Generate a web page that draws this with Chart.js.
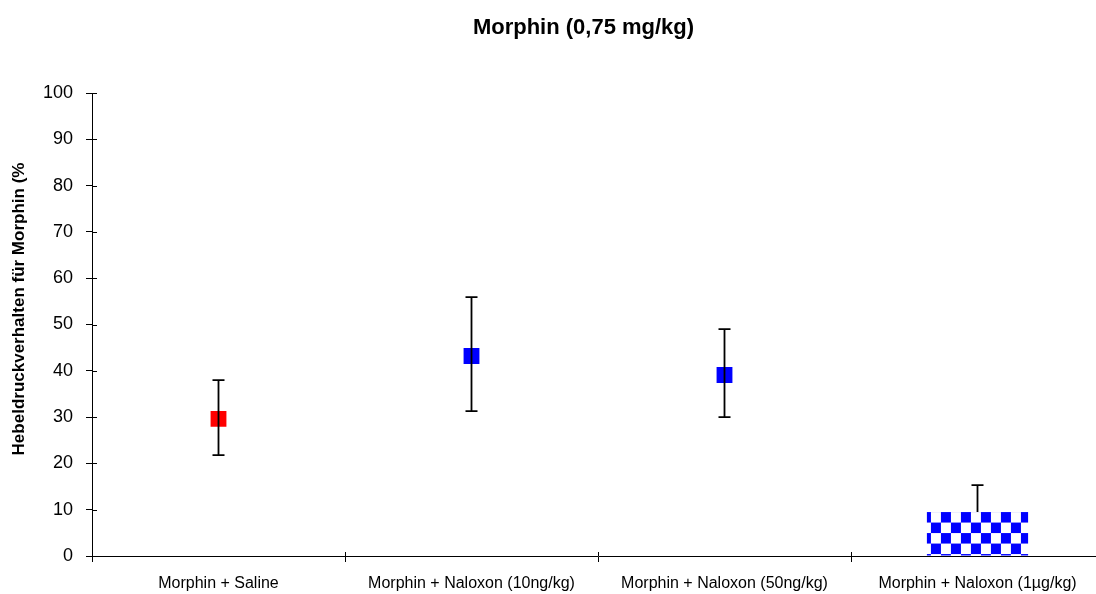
<!DOCTYPE html>
<html>
<head>
<meta charset="utf-8">
<script src="https://cdn.jsdelivr.net/npm/chart.js@4.4.1/dist/chart.umd.min.js"></script>
<style>
html,body{margin:0;padding:0;background:#fff;overflow:hidden;}
#wrap{width:1167px;height:594px;position:relative;}
</style>
</head>
<body>
<div id="wrap"><canvas id="c"></canvas></div>
<script>
const chartTitle = 'Morphin (0,75 mg/kg)';
const yAxisTitle = 'Hebeldruckverhalten für Morphin (%';
const categories = ['Morphin + Saline', 'Morphin + Naloxon (10ng/kg)', 'Morphin + Naloxon (50ng/kg)', 'Morphin + Naloxon (1µg/kg)'];
const pointValues = [29.6, 43.2, 39.1, null];
const pointColors = ['#ff0000', '#0000ff', '#0000ff', '#0000ff'];
const barValues = [null, null, null, 9.5];
const errorHigh = [38.0, 55.9, 49.0, 15.3];
const errorLow = [21.8, 31.3, 30.0, null];
const yTicks = [0, 10, 20, 30, 40, 50, 60, 70, 80, 90, 100];

const FONT = '"Liberation Sans", Arial, sans-serif';

// checkered pattern
const pc = document.createElement('canvas');
pc.width = 20; pc.height = 20;
const pctx = pc.getContext('2d');
pctx.fillStyle = '#ffffff'; pctx.fillRect(0, 0, 20, 20);
pctx.fillStyle = '#0000ff';
pctx.fillRect(0, 0, 10, 10);
pctx.fillRect(10, 10, 10, 10);
const checker = document.getElementById('c').getContext('2d').createPattern(pc, 'repeat');

const patternAlign = {
  id: 'patternAlign',
  beforeDatasetsDraw(chart) {
    const meta = chart.getDatasetMeta(0);
    meta.data.forEach((el, i) => {
      if (barValues[i] == null) return;
      const left = el.x - el.width / 2;
      checker.setTransform(new DOMMatrix().translate(left - 6, el.y).scale(1, 1.05));
    });
  }
};

const errorBars = {
  id: 'errorBars',
  afterDatasetsDraw(chart) {
    const ctx = chart.ctx;
    const x = chart.scales.x, y = chart.scales.y;
    ctx.save();
    ctx.strokeStyle = '#000000';
    ctx.lineWidth = 1.8;
    categories.forEach((c, i) => {
      const cx = x.getPixelForValue(i);
      const center = pointValues[i] != null ? pointValues[i] : barValues[i];
      const hi = errorHigh[i], lo = errorLow[i];
      const cap = 6;
      ctx.beginPath();
      if (hi != null) {
        const yh = y.getPixelForValue(hi);
        ctx.moveTo(cx, y.getPixelForValue(center));
        ctx.lineTo(cx, yh);
        ctx.moveTo(cx - cap, yh); ctx.lineTo(cx + cap, yh);
      }
      if (lo != null) {
        const yl = y.getPixelForValue(lo);
        ctx.moveTo(cx, y.getPixelForValue(center));
        ctx.lineTo(cx, yl);
        ctx.moveTo(cx - cap, yl); ctx.lineTo(cx + cap, yl);
      }
      ctx.stroke();
    });
    ctx.restore();
  }
};

// inner half of the "cross" tick marks
const crossTicks = {
  id: 'crossTicks',
  afterDraw(chart) {
    const ctx = chart.ctx;
    const x = chart.scales.x, y = chart.scales.y;
    const area = chart.chartArea;
    ctx.save();
    ctx.strokeStyle = '#000';
    ctx.lineWidth = 1;
    ctx.beginPath();
    yTicks.forEach(v => {
      const py = Math.round(y.getPixelForValue(v)) + 0.5;
      ctx.moveTo(area.left, py); ctx.lineTo(area.left + 5, py);
    });
    const step = x.getPixelForValue(1) - x.getPixelForValue(0);
    for (let i = 0; i <= categories.length; i++) {
      const px = Math.round(x.getPixelForValue(i) - step / 2) + 0.5;
      ctx.moveTo(px, area.bottom); ctx.lineTo(px, area.bottom - 4);
    }
    ctx.stroke();
    ctx.restore();
  }
};

const titlesPlugin = {
  id: 'titlesPlugin',
  afterDraw(chart) {
    const ctx = chart.ctx;
    ctx.save();
    ctx.fillStyle = '#000';
    ctx.textAlign = 'center';
    ctx.textBaseline = 'middle';
    ctx.font = 'bold 22px ' + FONT;
    ctx.fillText(chartTitle, 583.5, 28);
    ctx.translate(19, 309);
    ctx.rotate(-Math.PI / 2);
    ctx.font = 'bold 17px ' + FONT;
    ctx.fillText(yAxisTitle, 0, 0);
    ctx.restore();
  }
};

new Chart(document.getElementById('c'), {
  type: 'bar',
  data: {
    labels: categories,
    datasets: [
      {
        type: 'bar',
        data: barValues,
        backgroundColor: checker,
        borderWidth: 0,
        barPercentage: 0.4,
        categoryPercentage: 1.0,
        order: 2
      },
      {
        type: 'line',
        data: pointValues,
        showLine: false,
        pointStyle: 'rect',
        pointRadius: 11.2,
        pointHoverRadius: 11.2,
        pointBackgroundColor: pointColors,
        pointBorderColor: pointColors,
        pointBorderWidth: 0,
        order: 1
      }
    ]
  },
  options: {
    responsive: true,
    maintainAspectRatio: false,
    animation: false,
    events: [],
    layout: { padding: { left: 0, right: 63, top: 93, bottom: 0 } },
    plugins: {
      legend: { display: false },
      tooltip: { enabled: false },
      title: { display: false }
    },
    scales: {
      x: {
        offset: true,
        grid: { offset: true, drawOnChartArea: false, drawTicks: true, tickLength: 6, color: '#000', lineWidth: 1 },
        border: { display: true, color: '#000', width: 1 },
        ticks: { color: '#000', padding: 12, maxRotation: 0, autoSkip: false,
          font: { family: FONT, size: 16 } },
        afterFit(s) { s.height = 38; }
      },
      y: {
        min: 0, max: 100,
        afterBuildTicks(s) { s.ticks = yTicks.map(v => ({ value: v })); },
        grid: { drawOnChartArea: false, drawTicks: true, tickLength: 6, color: '#000', lineWidth: 1 },
        border: { display: true, color: '#000', width: 1 },
        ticks: { color: '#000', padding: 13,
          font: { family: FONT, size: 18 } },
        afterFit(s) { s.width = 92; }
      }
    }
  },
  plugins: [patternAlign, errorBars, crossTicks, titlesPlugin]
});
</script>
</body>
</html>
